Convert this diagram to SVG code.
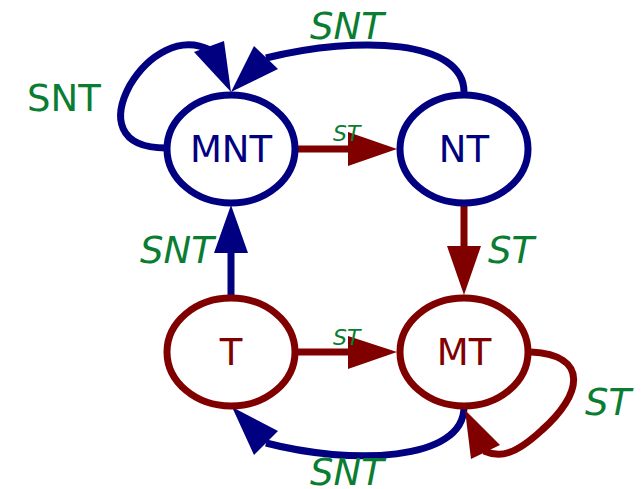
<svg xmlns="http://www.w3.org/2000/svg" width="643" height="489" viewBox="0 0 643 489">
<style>
.n{fill:#fff;stroke-width:7}
.b{stroke:#000080}
.r{stroke:#800000}
.e{fill:none;stroke-width:7}
.hb{fill:#000080}
.hr{fill:#800000}
.t{font-family:"DejaVu Sans",sans-serif;font-size:37px;text-anchor:middle}
.l{font-family:"DejaVu Sans",sans-serif;font-size:37px;fill:#0a7d32}
.i{font-style:oblique}
.s{font-size:22px}
</style>
<rect width="643" height="489" fill="#fff"/>
<g id="edges">
<path class="e b" d="M166,148 C118,148 112,118 130,85 C148,55 180,35 210,50"/>
<polygon class="hb" points="194,52 224,41 231,92"/>
<path class="e b" d="M464,92 C464,40 360,35 266,58"/>
<polygon class="hb" points="254,46 278,69 231,92"/>
<line class="e r" x1="298" y1="149" x2="350" y2="149"/>
<polygon class="hr" points="348,132 348,166 397,149"/>
<line class="e r" x1="464" y1="206" x2="464" y2="250"/>
<polygon class="hr" points="447,246 481,246 464,295"/>
<line class="e b" x1="231" y1="296" x2="231" y2="250"/>
<polygon class="hb" points="214,253 248,253 231,205"/>
<line class="e r" x1="298" y1="352" x2="350" y2="352"/>
<polygon class="hr" points="348,336 348,369 397,352"/>
<path class="e b" d="M464,407 C464,462 350,465 266,443"/>
<polygon class="hb" points="254,455 278,431 232,407"/>
<path class="e r" d="M531,352 C590,355 582,395 542,430 C515,455 500,458 484,451"/>
<polygon class="hr" points="471,459 500,445 465,410"/>
</g>
<g id="MNT"><ellipse class="n b" cx="231" cy="149" rx="64" ry="54"/><text class="t" x="231" y="162" fill="#000080">MNT</text></g>
<g id="NT"><ellipse class="n b" cx="464" cy="149" rx="64" ry="54"/><text class="t" x="464" y="162" fill="#000080">NT</text></g>
<g id="T"><ellipse class="n r" cx="231" cy="352" rx="64" ry="54"/><text class="t" x="231" y="365" fill="#800000">T</text></g>
<g id="MT"><ellipse class="n r" cx="464" cy="352" rx="64" ry="54"/><text class="t" x="464" y="365" fill="#800000">MT</text></g>
<g id="labels">
<text class="l" x="27" y="111">SNT</text>
<text class="l i" x="310" y="39">SNT</text>
<text class="l i s" x="333" y="141">ST</text>
<text class="l i" x="488" y="263">ST</text>
<text class="l i" x="140" y="263">SNT</text>
<text class="l i s" x="333" y="345">ST</text>
<text class="l i" x="310" y="485">SNT</text>
<text class="l i" x="585" y="415">ST</text>
</g>
</svg>
